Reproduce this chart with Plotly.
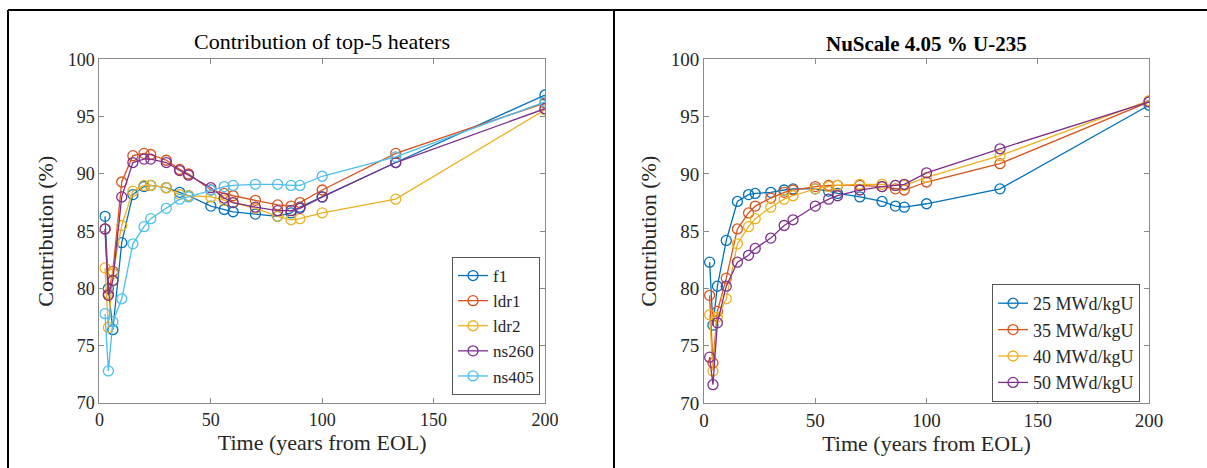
import plotly.graph_objects as go

# ---- data ----
time_years = [2.5, 4, 6, 10, 15, 20, 23, 30, 36, 40, 50, 56, 60, 70, 80, 86, 90, 100, 133, 200]

heater_names = ["f1", "ldr1", "ldr2", "ns260", "ns405"]
f1 = [86.3, 80.0, 76.4, 84.0, 88.2, 88.9, 89.0, 88.8, 88.4, 88.1, 87.2, 86.9, 86.7, 86.5, 86.3, 86.6, 87.1, 88.0, 91.0, 96.9]
ldr1 = [85.2, 79.5, 81.5, 89.3, 91.6, 91.8, 91.7, 91.2, 90.4, 90.0, 88.6, 88.3, 88.1, 87.7, 87.3, 87.2, 87.5, 88.6, 91.8, 96.2]
ldr2 = [81.8, 76.6, 81.3, 85.5, 88.5, 89.0, 89.0, 88.8, 88.2, 88.1, 88.0, 87.7, 87.5, 87.0, 86.3, 86.0, 86.1, 86.6, 87.8, 95.6]
ns260 = [85.2, 79.4, 80.7, 88.0, 91.0, 91.3, 91.3, 91.0, 90.3, 89.9, 88.8, 87.9, 87.5, 87.1, 86.8, 86.8, 87.0, 88.0, 91.0, 95.7]
ns405 = [77.8, 72.8, 77.1, 79.1, 83.9, 85.4, 86.1, 87.0, 87.8, 88.0, 88.6, 88.9, 89.0, 89.1, 89.1, 89.0, 89.0, 89.8, 91.5, 96.3]

burnup_names = ["25 MWd/kgU", "35 MWd/kgU", "40 MWd/kgU", "50 MWd/kgU"]
bu25 = [82.3, 76.8, 80.2, 84.2, 87.6, 88.2, 88.3, 88.4, 88.6, 88.7, 88.7, 88.5, 88.3, 88.0, 87.6, 87.2, 87.1, 87.4, 88.7, 96.0]
bu35 = [79.4, 73.5, 78.0, 80.9, 85.2, 86.6, 87.2, 87.9, 88.4, 88.6, 88.9, 89.0, 89.0, 89.0, 88.9, 88.7, 88.6, 89.3, 90.9, 96.3]
bu40 = [77.7, 72.8, 77.5, 79.1, 83.9, 85.4, 86.1, 87.1, 87.8, 88.1, 88.7, 88.9, 89.0, 89.1, 89.1, 89.0, 89.0, 89.7, 91.6, 96.4]
bu50 = [74.0, 71.6, 77.0, 80.2, 82.3, 82.9, 83.5, 84.4, 85.5, 86.0, 87.2, 87.8, 88.1, 88.6, 88.9, 89.0, 89.1, 90.1, 92.2, 96.3]

x_ticks = [0, 50, 100, 150, 200]
y_ticks = [70, 75, 80, 85, 90, 95, 100]

colors = ["#0072BD", "#D95319", "#EDB120", "#7E2F8E", "#4DBEEE"]
FONT = "Liberation Serif"
TXT = "#262626"

fig = go.Figure()

left_series = [f1, ldr1, ldr2, ns260, ns405]
for name, vals, col in zip(heater_names, left_series, colors):
    fig.add_trace(go.Scatter(
        x=time_years, y=vals, name=name, mode="lines+markers",
        line=dict(color=col, width=1.3),
        marker=dict(symbol="circle-open", size=10, color=col, line=dict(width=1.3)),
        xaxis="x", yaxis="y", legend="legend"))

right_series = [bu25, bu35, bu40, bu50]
for name, vals, col in zip(burnup_names, right_series, colors):
    fig.add_trace(go.Scatter(
        x=time_years, y=vals, name=name, mode="lines+markers",
        line=dict(color=col, width=1.3),
        marker=dict(symbol="circle-open", size=10, color=col, line=dict(width=1.3)),
        xaxis="x2", yaxis="y2", legend="legend2"))


def axis_style(tick_size):
    return dict(
        showgrid=False, zeroline=False, showline=True, linecolor="#8a8a8a", linewidth=1,
        mirror="ticks", ticks="inside", ticklen=5, tickcolor="#8a8a8a",
        tickfont=dict(family=FONT, size=tick_size, color=TXT),
    )


fig.update_layout(
    width=1207, height=468,
    margin=dict(l=0, r=0, t=0, b=0, autoexpand=False),
    paper_bgcolor="white", plot_bgcolor="white",
    showlegend=True,
    xaxis=dict(domain=[0.0824, 0.4515], range=[0, 200], tickvals=x_ticks, anchor="y",
               title=dict(text="Time (years from EOL)", font=dict(family=FONT, size=22, color=TXT), standoff=2),
               **axis_style(18)),
    yaxis=dict(domain=[0.1389, 0.8729], range=[70, 100], tickvals=y_ticks, anchor="x",
               title=dict(text="Contribution (%)", font=dict(family=FONT, size=22, color=TXT), standoff=8),
               **axis_style(18)),
    xaxis2=dict(domain=[0.5833, 0.952], range=[0, 200], tickvals=x_ticks, anchor="y2",
                title=dict(text="Time (years from EOL)", font=dict(family=FONT, size=22, color=TXT), standoff=2),
                **axis_style(19)),
    yaxis2=dict(domain=[0.1389, 0.8729], range=[70, 100], tickvals=y_ticks, anchor="x2",
                title=dict(text="Contribution (%)", font=dict(family=FONT, size=22, color=TXT), standoff=8),
                **axis_style(19)),
    legend=dict(x=0.4474, y=0.156, xanchor="right", yanchor="bottom",
                bgcolor="white", bordercolor="#555555", borderwidth=1,
                font=dict(family=FONT, size=17, color=TXT),
                tracegroupgap=0, itemwidth=30),
    legend2=dict(x=0.9445, y=0.141, xanchor="right", yanchor="bottom",
                 bgcolor="white", bordercolor="#555555", borderwidth=1,
                 font=dict(family=FONT, size=18, color=TXT),
                 tracegroupgap=0, itemwidth=30),
    annotations=[
        dict(text="Contribution of top-5 heaters", x=322 / 1207, y=1 - 41 / 468, xref="paper", yref="paper",
             showarrow=False, xanchor="center", yanchor="middle",
             font=dict(family=FONT, size=22, color="#000000")),
        dict(text="<b>NuScale 4.05 % U-235</b>", x=926 / 1207, y=1 - 44 / 468, xref="paper", yref="paper",
             showarrow=False, xanchor="center", yanchor="middle",
             font=dict(family=FONT, size=21, color="#000000")),
    ],
    shapes=[
        dict(type="line", xref="paper", yref="paper", x0=8 / 1207, x1=1, y0=1 - 10 / 468, y1=1 - 10 / 468,
             line=dict(color="black", width=2)),
        dict(type="line", xref="paper", yref="paper", x0=8 / 1207, x1=8 / 1207, y0=0, y1=1 - 10 / 468,
             line=dict(color="black", width=2)),
        dict(type="line", xref="paper", yref="paper", x0=614 / 1207, x1=614 / 1207, y0=0, y1=1 - 10 / 468,
             line=dict(color="black", width=2)),
    ],
)

fig.write_html("out.html",
               config={"displayModeBar": False},
               post_script="document.body.style.margin='0';document.body.style.overflow='hidden';")
